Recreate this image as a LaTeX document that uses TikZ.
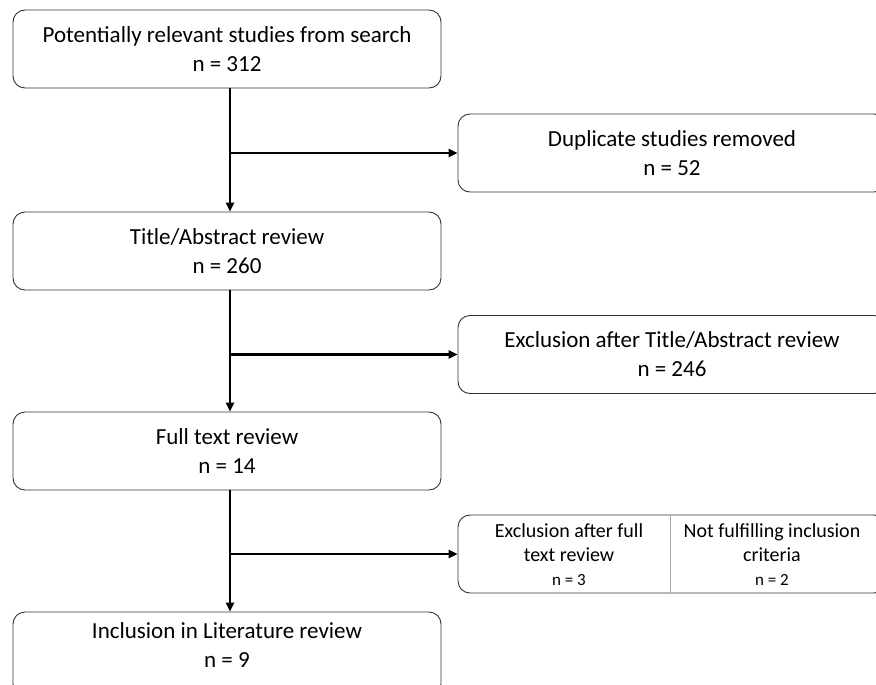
\documentclass[tikz,border=0pt]{standalone}
\usepackage{fontspec}
\setmainfont{Carlito}
\usetikzlibrary{arrows.meta}
\tikzset{
  boxtext/.style={align=center, inner sep=0pt, font=\fontsize{23}{29}\selectfont},
  box/.style={boxtext, draw=black!80, line width=0.9pt, rounded corners=12pt,
    minimum width=428pt, minimum height=78pt},
  half/.style={align=center, minimum height=78pt, inner sep=0pt,
    font=\fontsize{20}{24}\selectfont},
  small/.style={font=\fontsize{17}{20}\selectfont},
  flow/.style={line width=2.6pt, -{Triangle[length=9pt,width=8pt]}}
}
\begin{document}
\begin{tikzpicture}[x=1pt,y=-1pt]
\useasboundingbox (0,0) rectangle (876,685);
\clip (0,0) rectangle (876,685);
\node[box] (top) at (227,49) {Potentially relevant studies from search\\n = 312};
\node[box] (dup) at (672,153) {Duplicate studies removed\\n = 52};
\node[box] (title) at (227,251) {Title/Abstract review\\n = 260};
\node[box] (excl1) at (672,354.5) {Exclusion after Title/Abstract review\\n = 246};
\node[box] (full) at (227,451) {Full text review\\n = 14};
\node[box] (excl2) at (672,554) {};
\node[half, minimum width=202pt] (excl2a) at (569,555) {Exclusion after full\\text review\\{\fontsize{17}{20}\selectfont n = 3}};
\node[half, minimum width=200pt] (excl2b) at (772,555) {Not fulfilling inclusion\\criteria\\{\fontsize{17}{20}\selectfont n = 2}};
\draw[black!35, line width=0.8pt] (excl2a.east |- excl2.north) -- (excl2a.east |- excl2.south);
\node[box, minimum height=84pt] (incl) at (227,654) {};
\node[boxtext] (incltxt) at (227,645) {Inclusion in Literature review\\n = 9};
\coordinate (b1) at (230,153);
\coordinate (b2) at (230,354.5);
\coordinate (b3) at (230,554);
\draw[flow] (top.south -| b1) -- (title.north -| b1);
\draw[flow] (title.south -| b2) -- (full.north -| b2);
\draw[flow] (full.south -| b3) -- (incl.north -| b3);
\draw[flow] (b1) -- (dup.west);
\draw[flow] (b2) -- (excl1.west);
\draw[flow] (b3) -- (excl2.west);
\end{tikzpicture}
\end{document}
